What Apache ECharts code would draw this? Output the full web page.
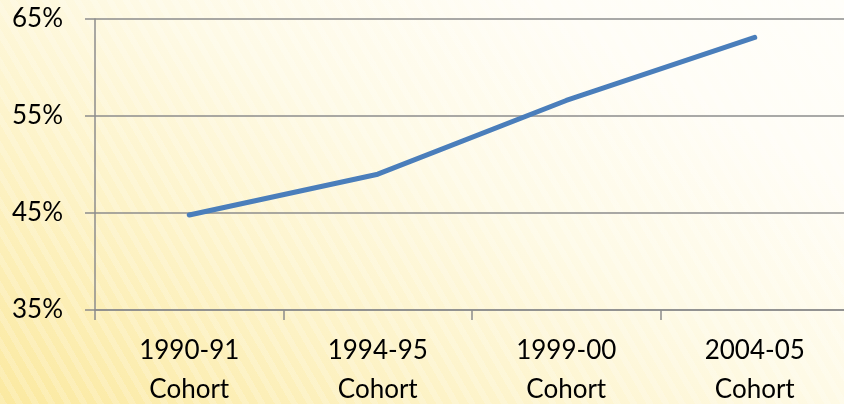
<!DOCTYPE html>
<html><head><meta charset="utf-8">
<script src="https://cdn.jsdelivr.net/npm/echarts@6/dist/echarts.min.js"></script>
<style>
html,body{margin:0;padding:0;}
#c{width:844px;height:404px;
background:
 repeating-linear-gradient(60deg, rgba(255,255,255,0.18) 0px, rgba(255,255,255,0.18) 6px, rgba(255,255,255,0) 6px, rgba(255,255,255,0) 14px),
 linear-gradient(30deg, #fbe9a0 0%, #fdf3c8 30%, #fefae6 55%, #fffdf6 80%, #fffef9 100%);}
</style></head>
<body><div id="c"></div>
<script>
const categories = ["1990-91\nCohort", "1994-95\nCohort", "1999-00\nCohort", "2004-05\nCohort"];
const rates = [44.8, 49.0, 56.6, 63.1];
const yTicks = [35, 45, 55, 65];

const chart = echarts.init(document.getElementById('c'));
chart.setOption({
  backgroundColor: 'transparent',
  animation: false,
  textStyle: {fontFamily: 'Lato', fontSize: 26},
  grid: {left: 95, right: -5, top: 19, bottom: 94, containLabel: false, outerBoundsMode: 'none'},
  xAxis: {
    type: 'category', data: categories, boundaryGap: true,
    axisLine: {lineStyle: {color: '#8c8c8c', width: 1.5}},
    axisTick: {show: true, length: 10, lineStyle: {color: '#8c8c8c', width: 1.5}},
    axisLabel: {color: '#000', fontFamily: 'Lato', fontSize: 26, lineHeight: 39, margin: 21}
  },
  yAxis: {
    type: 'value', min: yTicks[0], max: yTicks[yTicks.length-1], interval: 10,
    axisLine: {show: true, lineStyle: {color: '#8c8c8c', width: 1.5}},
    axisTick: {show: true, length: 10, lineStyle: {color: '#8c8c8c', width: 1.5}},
    splitLine: {show: true, lineStyle: {color: '#8c8c8c', width: 1.5}},
    axisLabel: {color: '#000', fontFamily: 'Lato', fontSize: 26, margin: 32, formatter: v => v + '%'}
  },
  series: [{
    type: 'line', data: rates, showSymbol: false, symbol: 'none',
    lineStyle: {color: '#4a7ebb', width: 5, cap: 'round', join: 'round'}
  }]
});
</script></body></html>
